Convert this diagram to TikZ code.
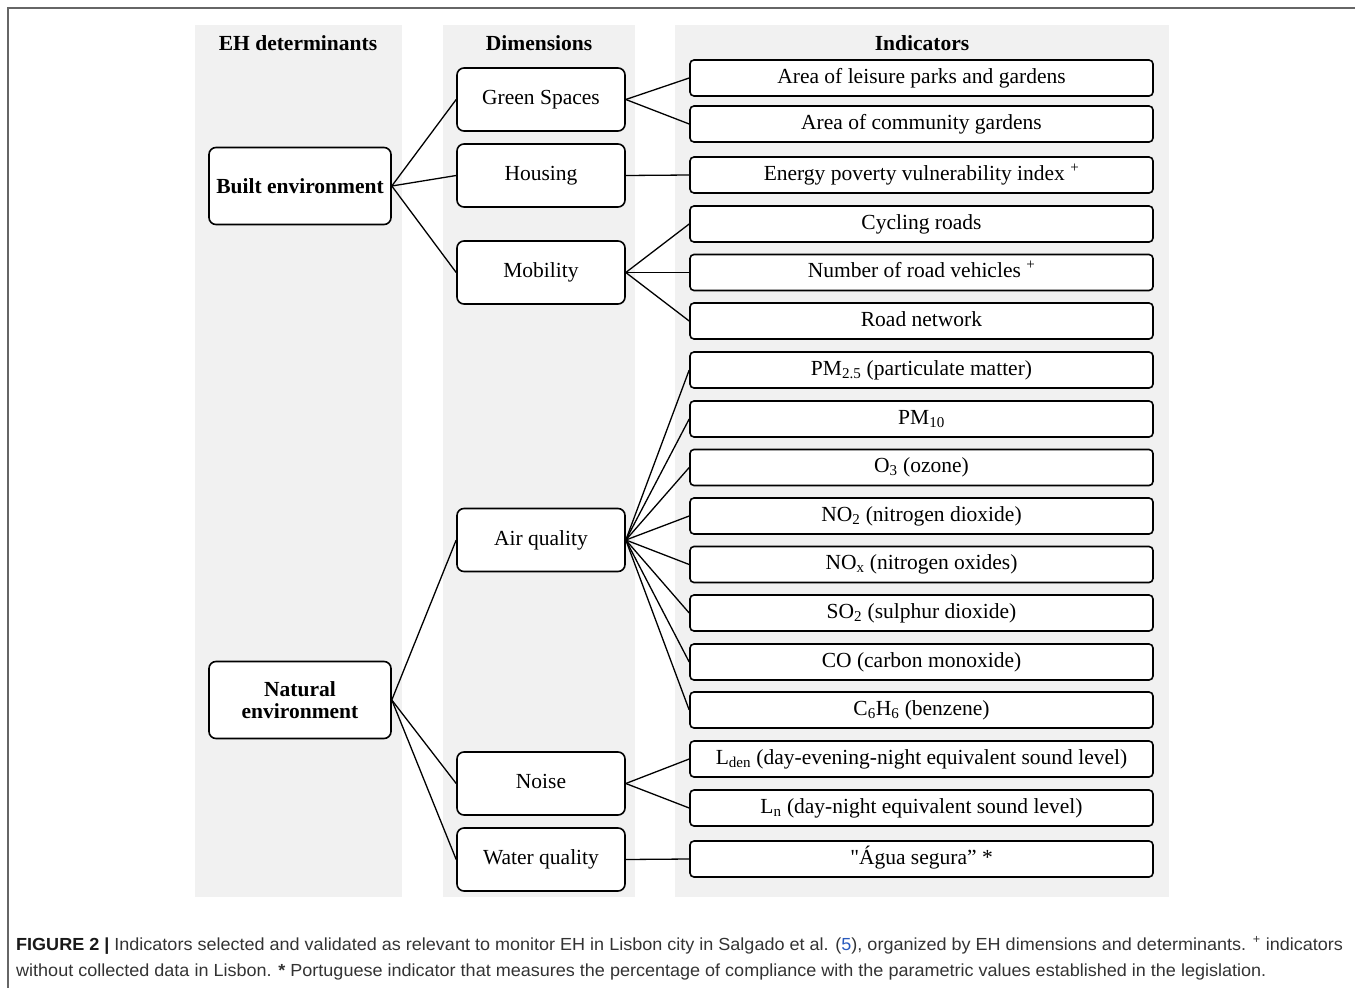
\documentclass[tikz,border=0pt]{standalone}
\usepackage{fontspec}
\setmainfont{Liberation Serif}
\newfontfamily\quotefont[Ligatures=ResetAll]{Liberation Serif}
\newfontfamily\capfont{Liberation Sans}
\definecolor{refblue}{RGB}{40,90,190}
\definecolor{colgray}{RGB}{241,241,241}

\begin{document}
\begin{tikzpicture}[x=1pt,y=-1pt,
  column/.style={fill=colgray, draw=none},
  head/.style={font=\fontsize{21.5}{24}\selectfont\bfseries},
  determinant/.style={draw, line width=1.6pt, rounded corners=7pt, fill=white, minimum width=182pt, minimum height=77pt, align=center, font=\fontsize{21.5}{24}\selectfont\bfseries},
  dimension/.style={draw, line width=1.6pt, rounded corners=7pt, fill=white, minimum width=168pt, minimum height=63pt, text height=14pt, text depth=4pt, font=\fontsize{21.5}{24}\selectfont},
  indicator/.style={draw, line width=1.6pt, rounded corners=4pt, fill=white, minimum width=463pt, minimum height=36pt, inner sep=0pt, text height=14pt, text depth=4pt, font=\fontsize{21.5}{24}\selectfont},
  link/.style={line width=1.3pt},
  caption/.style={anchor=base west, inner sep=0pt, text=black!80, font=\capfont\fontsize{17.5}{20}\selectfont}]
\useasboundingbox (0,0) rectangle (1355,988);
\draw[black!60, line width=1.2pt] (8,988) -- (8,8) -- (1355,8);

% shaded columns
\fill[column] (195,25) rectangle (402,897);
\fill[column] (443,25) rectangle (635,897);
\fill[column] (675,25) rectangle (1169,897);
\node[head] (hdet) at (298,43) {EH determinants};
\node[head] (hdim) at (539,43) {Dimensions};
\node[head] (hind) at (922,43) {Indicators};

% determinants
\node[determinant] (built) at (300,186) {Built environment};
\node[determinant] (natural) at (300,700) {Natural\\[-2pt]environment};

% dimensions
\node[dimension] (green) at (541,99.5) {Green Spaces};
\node[dimension] (housing) at (541,175.5) {Housing};
\node[dimension] (mobility) at (541,272.5) {Mobility};
\node[dimension] (air) at (541,540) {Air quality};
\node[dimension] (noise) at (541,783.5) {Noise};
\node[dimension] (water) at (541,859.5) {Water quality};

% indicators
\node[indicator] (leisure) at (921.5,78) {Area of leisure parks and gardens};
\node[indicator] (community) at (921.5,124) {Area of community gardens};
\node[indicator] (energy) at (921.5,175) {Energy poverty vulnerability index \textsuperscript{+}};
\node[indicator] (cycling) at (921.5,224) {Cycling roads};
\node[indicator] (vehicles) at (921.5,272.5) {Number of road vehicles \textsuperscript{+}};
\node[indicator] (road) at (921.5,321) {Road network};
\node[indicator] (pmsmall) at (921.5,370) {PM\textsubscript{2.5} (particulate matter)};
\node[indicator] (pmlarge) at (921.5,419) {PM\textsubscript{10}};
\node[indicator] (ozone) at (921.5,467.5) {O\textsubscript{3} (ozone)};
\node[indicator] (notwo) at (921.5,516) {NO\textsubscript{2} (nitrogen dioxide)};
\node[indicator] (nox) at (921.5,564.5) {NO\textsubscript{x} (nitrogen oxides)};
\node[indicator] (sotwo) at (921.5,613) {SO\textsubscript{2} (sulphur dioxide)};
\node[indicator] (co) at (921.5,662) {CO (carbon monoxide)};
\node[indicator] (benzene) at (921.5,710) {C\textsubscript{6}H\textsubscript{6} (benzene)};
\node[indicator] (lden) at (921.5,759) {L\textsubscript{den} (day-evening-night equivalent sound level)};
\node[indicator] (ln) at (921.5,808) {L\textsubscript{n} (day-night equivalent sound level)};
\node[indicator] (agua) at (921.5,859) {{\quotefont"}Água segura” *};

% connectors
\draw[link] (built.east) -- (green.west);
\draw[link] (built.east) -- (housing.west);
\draw[link] (built.east) -- (mobility.west);
\draw[link] (natural.east) -- (air.west);
\draw[link] (natural.east) -- (noise.west);
\draw[link] (natural.east) -- (water.west);
\draw[link] (green.east) -- (leisure.west);
\draw[link] (green.east) -- (community.west);
\draw[link] (housing.east) -- (energy.west);
\draw[link] (mobility.east) -- (cycling.west);
\draw[link] (mobility.east) -- (vehicles.west);
\draw[link] (mobility.east) -- (road.west);
\draw[link] (air.east) -- (pmsmall.west);
\draw[link] (air.east) -- (pmlarge.west);
\draw[link] (air.east) -- (ozone.west);
\draw[link] (air.east) -- (notwo.west);
\draw[link] (air.east) -- (nox.west);
\draw[link] (air.east) -- (sotwo.west);
\draw[link] (air.east) -- (co.west);
\draw[link] (air.east) -- (benzene.west);
\draw[link] (noise.east) -- (lden.west);
\draw[link] (noise.east) -- (ln.west);
\draw[link] (water.east) -- (agua.west);

% caption
\node[caption] (capone) at (16,950) {\scalebox{1.03}[1]{{\bfseries\color{black!90}FIGURE 2 |} Indicators selected and validated as relevant to monitor EH in Lisbon city in Salgado et al. (\textcolor{refblue}{5}), organized by EH dimensions and determinants. \textsuperscript{+} indicators}};
\node[caption] (captwo) at (16,976) {\scalebox{1.03}[1]{without collected data in Lisbon. {\bfseries *} Portuguese indicator that measures the percentage of compliance with the parametric values established in the legislation.}};
\end{tikzpicture}
\end{document}
